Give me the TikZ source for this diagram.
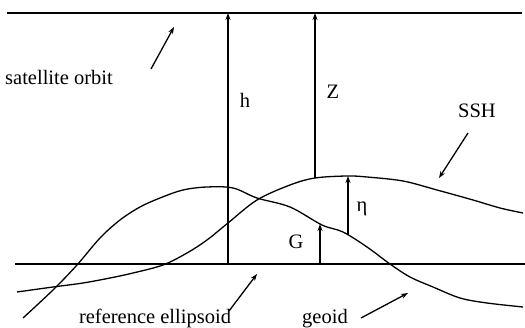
\documentclass[tikz,border=0pt]{standalone}
\usepackage{fontspec}
\setmainfont{Liberation Serif}
\usetikzlibrary{arrows.meta}
\begin{document}
\begin{tikzpicture}[x=1pt,y=-1pt,
  line/.style={line width=1.3pt,black},
  arr/.style={line width=1.3pt,-{Stealth[length=7pt,width=5pt]}},
  lbl/.style={font=\fontsize{20.5}{24}\selectfont,inner sep=0pt,anchor=center}]
\useasboundingbox (0,0) rectangle (525,328);
% orbit and ellipsoid lines
\coordinate (orbL) at (7,13);
\coordinate (orbR) at (522,13);
\coordinate (ellL) at (15,264);
\coordinate (ellR) at (525,264);
\draw[line] (orbL) -- (orbR);
\draw[line] (ellL) -- (ellR);
% geoid
\draw[line] plot[smooth,tension=0.55] coordinates {(23,318) (53,290) (77,265) (100,238) (120,220) (140,207) (160,198) (183,190) (207,187) (233,188) (257,198) (290,207) (322,225) (343,232) (367,247) (390,264) (410,277) (433,287) (460,298) (487,303) (523,307)};
% SSH
\draw[line] plot[smooth,tension=0.55] coordinates {(17,292) (53,287) (83,283) (110,278) (133,273) (163,265) (187,253) (207,240) (228,223) (257,200) (290,185) (315,178) (347,176) (367,177) (403,181) (437,190) (473,200) (500,208) (523,213)};
% vertical arrows
\coordinate (hB) at (228,264);
\coordinate (hT) at (228,13);
\coordinate (zB) at (315,178);
\coordinate (zT) at (315,13);
\coordinate (eB) at (348,235);
\coordinate (eT) at (348,176);
\coordinate (gB) at (320,264);
\coordinate (gT) at (320,224);
\draw[arr] (hB) -- (hT);
\draw[arr] (zB) -- (zT);
\draw[arr] (eB) -- (eT);
\draw[arr] (gB) -- (gT);
% labels
\node[lbl,anchor=west] (sat) at (5,77) {satellite orbit};
\node[lbl] (h) at (245,100) {h};
\node[lbl] (Z) at (333,92) {Z};
\node[lbl] (ssh) at (477,111) {SSH};
\node[lbl] (eta) at (362,209) {η};
\node[lbl] (G) at (296,242) {G};
\node[lbl] (ref) at (155,318) {reference ellipsoid};
\node[lbl] (geo) at (325,319) {geoid};
% pointer arrows
\coordinate (p1s) at (151,69); \coordinate (p1e) at (174,27);
\coordinate (p2s) at (468,133); \coordinate (p2e) at (439,178);
\coordinate (p3s) at (229,311); \coordinate (p3e) at (257,274);
\coordinate (p4s) at (361,318); \coordinate (p4e) at (408,293);
\draw[arr] (p1s) -- (p1e);
\draw[arr] (p2s) -- (p2e);
\draw[arr] (p3s) -- (p3e);
\draw[arr] (p4s) -- (p4e);
\end{tikzpicture}
\end{document}
